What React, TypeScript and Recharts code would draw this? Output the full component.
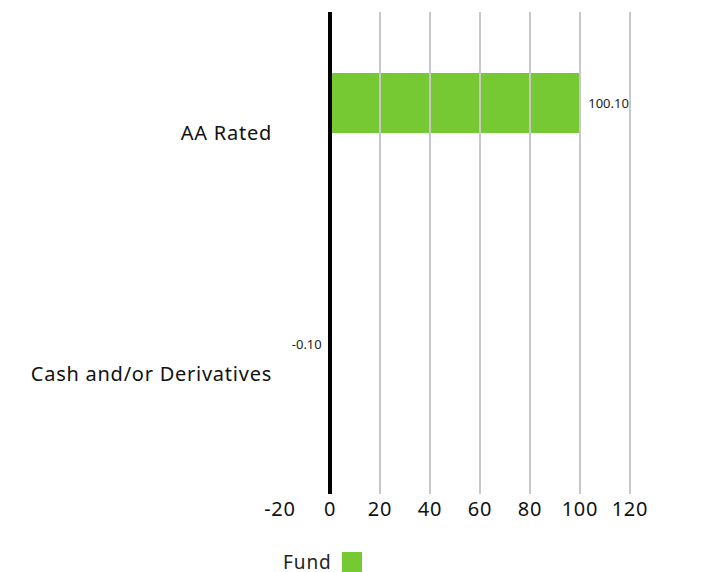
import React from "react";
import { BarChart, Bar, XAxis, YAxis, ReferenceLine, LabelList, Legend } from "recharts";

const categories = ["AA Rated", "Cash and/or Derivatives"];
const fundValues = [100.1, -0.1];
const benchmarkValues: (number | null)[] = [null, null];
const xTicks = [-20, 0, 20, 40, 60, 80, 100, 120];
const gridTicks = [20, 40, 60, 80, 100, 120];

const data = categories.map((c, i) => ({ name: c, fund: fundValues[i], benchmark: benchmarkValues[i] }));

const FONT = "'Noto Sans', 'Open Sans', sans-serif";
const GREEN = "#76c933";

const LegendContent = () => (
  <div style={{ display: "flex", alignItems: "center", justifyContent: "flex-start", fontFamily: FONT, fontSize: 19, letterSpacing: 0.9, color: "#222", height: 20 }}>
    <span style={{ lineHeight: "20px" }}>Fund</span>
    <span style={{ display: "inline-block", width: 20, height: 20, background: GREEN, marginLeft: 10 }} />
  </div>
);

export default function App() {
  return (
    <div style={{ position: "absolute", left: 0, top: 0, background: "#fff" }}>
      <BarChart
        width={714}
        height={572}
        data={data}
        layout="vertical"
        margin={{ top: 12, right: 84, left: 0, bottom: 28 }}
        barGap={0}
      >
        <XAxis
          type="number"
          domain={[-20, 120]}
          ticks={xTicks}
          interval={0}
          axisLine={false}
          tickLine={false}
          tick={{ fontSize: 20, fill: "#111", fontFamily: FONT, letterSpacing: 0.8 }}
        />
        <YAxis
          type="category"
          dataKey="name"
          width={280}
          axisLine={false}
          tickLine={false}
          tick={{ fontSize: 20, fill: "#111", fontFamily: FONT, letterSpacing: 0.75 }}
        />
        {gridTicks.map((t) => (
          <ReferenceLine key={t} x={t} stroke="#c8c8c8" strokeWidth={2} />
        ))}
        <Bar dataKey="fund" fill={GREEN} barSize={60} isAnimationActive={false}>
          <LabelList dataKey="fund" position="right" offset={8} formatter={(v: any) => Number(v).toFixed(2)} style={{ fontSize: 13, fill: "#222", fontFamily: FONT }} />
        </Bar>
        <Bar dataKey="benchmark" fill="#000" barSize={60} isAnimationActive={false} legendType="none" />
        <ReferenceLine x={0} stroke="#000" strokeWidth={4} />
        <Legend content={<LegendContent />} wrapperStyle={{ position: "absolute", left: 283, top: 552, width: 100, height: 20 }} />
      </BarChart>
    </div>
  );
}
